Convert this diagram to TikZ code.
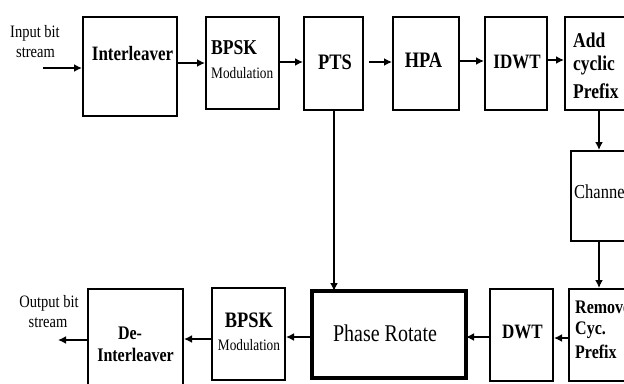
\documentclass[tikz,border=0pt]{standalone}
\usepackage{fontspec}
\setmainfont{Liberation Serif}
\usetikzlibrary{arrows.meta}
\newcommand{\vs}[1]{\scalebox{1}[1.2]{#1}}
\tikzset{
  box/.style={draw, line width=2pt, rectangle, inner sep=0pt},
  bigbox/.style={draw, line width=4pt, rectangle, inner sep=0pt},
  arr/.style={line width=2pt, -{Latex[length=8pt,width=8pt]}},
  lbl/.style={inner sep=0pt, font=\bfseries\fontsize{17}{20}\selectfont},
  lblr/.style={inner sep=0pt, font=\fontsize{14.5}{17}\selectfont},
  modl/.style={inner sep=0pt, font=\fontsize{13.3}{15}\selectfont}
}
\begin{document}
\begin{tikzpicture}[x=1pt,y=-1pt]
\useasboundingbox (0,0) rectangle (624,383);
\clip (0,0) rectangle (624,383);
% boxes
\node[box, minimum width=94pt, minimum height=99pt] (inter) at (130,66.5) {};
\node[box, minimum width=73pt, minimum height=92pt] (bpskA) at (242.5,63) {};
\node[box, minimum width=59pt, minimum height=93pt] (pts) at (333.5,63.5) {};
\node[box, minimum width=66pt, minimum height=93pt] (hpa) at (426,63.5) {};
\node[box, minimum width=62pt, minimum height=93pt] (idwt) at (516,63.5) {};
\node[box, minimum width=76pt, minimum height=93pt] (addcp) at (603,63.5) {};
\node[box, minimum width=80pt, minimum height=90pt] (chan) at (611,196) {};
\node[box, minimum width=80pt, minimum height=92pt] (remcp) at (609,335) {};
\node[box, minimum width=63pt, minimum height=92pt] (dwt) at (521.5,335) {};
\node[bigbox, minimum width=154pt, minimum height=87pt] (phase) at (389,334.5) {};
\node[box, minimum width=73pt, minimum height=92pt] (bpskB) at (248.5,334) {};
\node[box, minimum width=95pt, minimum height=111pt] (deint) at (135.5,344.5) {};
% labels
\node[lblr] (inA) at (35,33) {\vs{Input bit}};
\node[lblr] (inB) at (35.5,53) {\vs{stream}};
\node[lbl] (tInter) at (132.5,54) {\vs{Interleaver}};
\node[lbl, anchor=west, font=\bfseries\fontsize{17.6}{20}\selectfont] (tBA) at (211,48) {\vs{BPSK}};
\node[modl, anchor=west] (tMA) at (211,73) {\vs{Modulation}};
\node[lbl, font=\bfseries\fontsize{18.4}{20}\selectfont] (tPTS) at (335,62) {\vs{PTS}};
\node[lbl, font=\bfseries\fontsize{18.4}{20}\selectfont] (tHPA) at (423.5,60) {\vs{HPA}};
\node[lbl] (tIDWT) at (517,62) {\vs{IDWT}};
\node[lbl, anchor=west, font=\bfseries\fontsize{17.5}{20}\selectfont] (tAdd1) at (573,40) {\vs{Add}};
\node[lbl, anchor=west, font=\bfseries\fontsize{17.5}{20}\selectfont] (tAdd2) at (573,65) {\vs{cyclic}};
\node[lbl, anchor=west, font=\bfseries\fontsize{17.5}{20}\selectfont] (tAdd3) at (573,91) {\vs{Prefix}};
\node[inner sep=0pt, anchor=west, font=\fontsize{16.5}{20}\selectfont] (tChan) at (574,192) {\vs{Channel}};
\node[lbl, anchor=west, font=\bfseries\fontsize{16}{20}\selectfont] (tRem1) at (575,307) {\vs{Remove}};
\node[lbl, anchor=west, font=\bfseries\fontsize{16}{20}\selectfont] (tRem2) at (575,330) {\vs{Cyc.}};
\node[lbl, anchor=west, font=\bfseries\fontsize{16}{20}\selectfont] (tRem3) at (575,352) {\vs{Prefix}};
\node[lbl] (tDWT) at (522.5,332) {\vs{DWT}};
\node[inner sep=0pt, font=\fontsize{20}{22}\selectfont] (tPhase) at (385,333) {\vs{Phase Rotate}};
\node[lbl, font=\bfseries\fontsize{18.4}{20}\selectfont] (tBB) at (249,320) {\vs{BPSK}};
\node[modl] (tMB) at (249,345) {\vs{Modulation}};
\node[lbl, font=\bfseries\fontsize{16}{20}\selectfont] (tDe1) at (130,333) {\vs{De-}};
\node[lbl, font=\bfseries\fontsize{16}{20}\selectfont] (tDe2) at (135.5,355) {\vs{Interleaver}};
\node[lblr] (outA) at (49,303) {\vs{Output bit}};
\node[lblr] (outB) at (48,323) {\vs{stream}};
% connectors
\coordinate (src) at (43,68);
\coordinate (dst) at (58,340);
\draw[arr] (src) -- (inter.west |- src);
\draw[arr] (inter.east |- 0,63) -- (bpskA.west |- 0,63);
\draw[arr] (bpskA.east |- 0,62) -- (pts.west |- 0,62);
\draw[arr] ([xshift=5pt]pts.east |- 0,62) -- (hpa.west |- 0,62);
\draw[arr] (hpa.east |- 0,61) -- (idwt.west |- 0,61);
\draw[arr] (idwt.east |- 0,60) -- (addcp.west |- 0,60);
\draw[arr] (addcp.south -| 599,0) -- (chan.north -| 599,0);
\draw[arr] (chan.south -| 599,0) -- (remcp.north -| 599,0);
\draw[arr] (remcp.west |- 0,338) -- (dwt.east |- 0,338);
\draw[arr] (dwt.west |- 0,337) -- ([xshift=-2pt]phase.east |- 0,337);
\draw[arr] ([xshift=2pt]phase.west |- 0,337) -- (bpskB.east |- 0,337);
\draw[arr] (bpskB.west |- 0,339) -- (deint.east |- 0,339);
\draw[arr] (deint.west |- dst) -- (dst);
\draw[arr] (pts.south -| 334,0) -- ([yshift=-2pt]phase.north -| 334,0);
\end{tikzpicture}
\end{document}
